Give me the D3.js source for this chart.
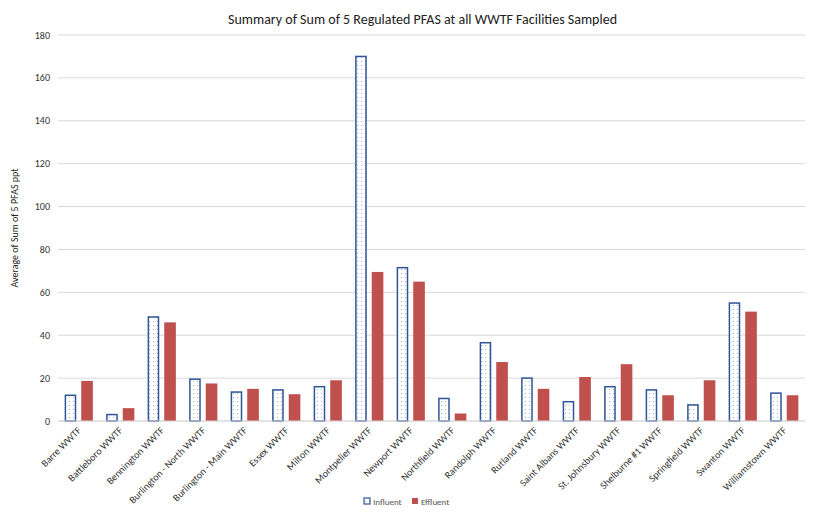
<!DOCTYPE html>
<html>
<head>
<meta charset="utf-8">
<script src="https://cdn.jsdelivr.net/npm/d3@7"></script>
<style>
  body { margin: 0; background: #fff; font-family: Calibri, Carlito, "Liberation Sans", Arial, sans-serif; }
</style>
</head>
<body>
<div id="chart"></div>
<script>
const categories = ['Barre WWTF', 'Battleboro WWTF', 'Bennington WWTF', 'Burlington - North WWTF',
  'Burlington - Main WWTF', 'Essex WWTF', 'Milton WWTF', 'Montpelier WWTF', 'Newport WWTF',
  'Northfield WWTF', 'Randolph WWTF', 'Rutland WWTF', 'Saint Albans WWTF', 'St. Johnsbury WWTF',
  'Shelburne #1 WWTF', 'Springfield WWTF', 'Swanton WWTF', 'Williamstown WWTF'];
const influent = [12, 3, 48.5, 19.5, 13.5, 14.5, 16, 170, 71.5, 10.5, 36.5, 20, 9, 16, 14.5, 7.5, 55, 13];
const effluent = [18.7, 6, 46, 17.5, 15, 12.5, 19, 69.5, 65, 3.5, 27.5, 15, 20.5, 26.5, 12, 19, 51, 12];
const yTicks = [0, 20, 40, 60, 80, 100, 120, 140, 160, 180];

const W = 815, H = 516;
const margin = { top: 35, right: 10, bottom: 95, left: 58 };
const svg = d3.select('#chart').append('svg').attr('width', W).attr('height', H);

const defs = svg.append('defs');
const pat = defs.append('pattern').attr('id', 'dots').attr('width', 4).attr('height', 4)
  .attr('patternUnits', 'userSpaceOnUse');
pat.append('rect').attr('width', 4).attr('height', 4).attr('fill', '#fff');
pat.append('rect').attr('x', 1).attr('y', 1).attr('width', 1).attr('height', 1).attr('fill', '#9fb4d6');

const x = d3.scaleBand().domain(categories).range([margin.left, W - margin.right]).paddingInner(0.32).paddingOuter(0.16);
const xs = d3.scaleBand().domain(['in', 'ef']).range([0, x.bandwidth()]).paddingInner(0.3);
const y = d3.scaleLinear().domain([0, 180]).range([H - margin.bottom, margin.top]);

svg.append('g').selectAll('line').data(yTicks).enter().append('line')
  .attr('x1', margin.left).attr('x2', W - margin.right)
  .attr('y1', d => y(d)).attr('y2', d => y(d))
  .attr('stroke', '#d9d9d9').attr('stroke-width', 1);

svg.append('g').attr('font-size', 10).attr('fill', '#333').attr('text-anchor', 'end')
  .selectAll('text').data(yTicks).enter().append('text')
  .attr('x', margin.left - 8).attr('y', d => y(d) + 3.5).text(d => d);

const g = svg.append('g');
g.selectAll('.in').data(categories).enter().append('rect')
  .attr('x', d => x(d) + xs('in') + 0.75).attr('width', xs.bandwidth() - 1.5)
  .attr('y', (d, i) => y(influent[i])).attr('height', (d, i) => y(0) - y(influent[i]))
  .attr('fill', 'url(#dots)').attr('stroke', '#2f5597').attr('stroke-width', 1.5);
g.selectAll('.ef').data(categories).enter().append('rect')
  .attr('x', d => x(d) + xs('ef')).attr('width', xs.bandwidth())
  .attr('y', (d, i) => y(effluent[i])).attr('height', (d, i) => y(0) - y(effluent[i]))
  .attr('fill', '#c0504d');

svg.append('line').attr('x1', margin.left).attr('x2', W - margin.right)
  .attr('y1', y(0)).attr('y2', y(0)).attr('stroke', '#d9d9d9');

svg.append('g').attr('font-size', 10).attr('fill', '#333').attr('text-anchor', 'end')
  .selectAll('text').data(categories).enter().append('text')
  .attr('transform', d => `translate(${x(d) + x.bandwidth() / 2 + 3},${y(0) + 10}) rotate(-45)`)
  .text(d => d);

svg.append('text').attr('x', W / 2 + 15).attr('y', 24).attr('text-anchor', 'middle')
  .attr('font-size', 14).attr('fill', '#222')
  .text('Summary of Sum of 5 Regulated PFAS at all WWTF Facilities Sampled');

svg.append('text').attr('transform', `translate(18,${(margin.top + y(0)) / 2}) rotate(-90)`)
  .attr('text-anchor', 'middle').attr('font-size', 10).attr('fill', '#222')
  .text('Average of Sum of 5 PFAS ppt');

const lg = svg.append('g').attr('font-size', 9).attr('fill', '#555');
lg.append('rect').attr('x', 364).attr('y', 498).attr('width', 6).attr('height', 6)
  .attr('fill', 'url(#dots)').attr('stroke', '#2f5597').attr('stroke-width', 1.2);
lg.append('text').attr('x', 373).attr('y', 504.5).text('Influent');
lg.append('rect').attr('x', 412).attr('y', 498).attr('width', 6).attr('height', 6).attr('fill', '#c0504d');
lg.append('text').attr('x', 421).attr('y', 504.5).text('Effluent');
</script>
</body>
</html>
